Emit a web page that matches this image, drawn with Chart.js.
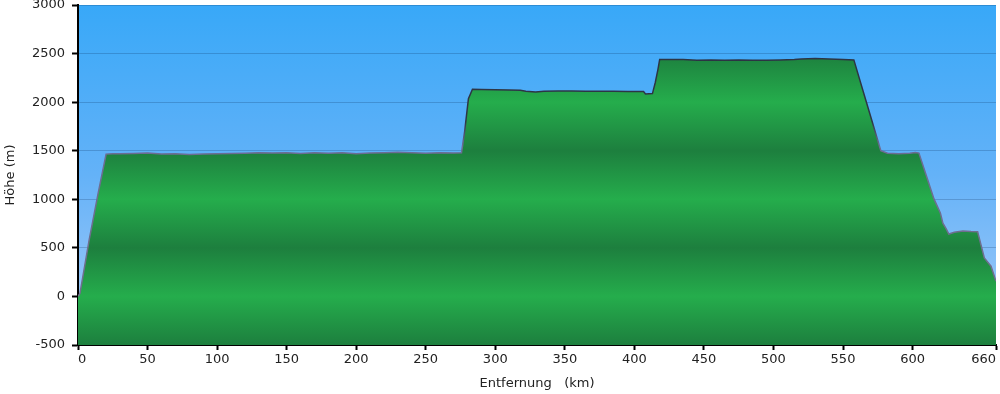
<!DOCTYPE html>
<html>
<head>
<meta charset="utf-8">
<script src="https://cdn.jsdelivr.net/npm/chart.js@4"></script>
<style>
    body { margin: 0; background: #fff; }
    canvas { display: block; }
</style>
</head>
<body>
<canvas id="profileChart" width="1000" height="394"></canvas>
<script>
// Elevation profile (km / m)
const distanceKm = [0, 1.4, 8, 14.4, 20.2, 25, 30, 40, 50, 60, 70, 80, 90, 100, 110, 120, 130, 140, 150, 160, 170, 180, 190, 200, 210, 220, 230, 240, 250, 260, 270, 275.7,
    278, 280.7, 283.6, 290, 300, 310, 318, 322, 329, 335, 345, 355, 365, 375, 385, 395, 406.6, 408, 413, 415, 417, 418.2,
    425, 435, 445, 455, 465, 475, 485, 495, 505, 515, 520, 530, 540, 550, 557.8,
    566.4, 577.2, 582, 590, 598, 602, 604.6,
    610, 615.4, 620, 621.8, 624, 626.1, 630, 636.2, 642, 646.8, 651.6, 656.4, 660];
const heightM = [0, 30, 580, 1056, 1465, 1470, 1468, 1472, 1476, 1466, 1470, 1462, 1465, 1468, 1472, 1474, 1478, 1476, 1480, 1472, 1478, 1474, 1480, 1468, 1476, 1480, 1484, 1478, 1474, 1480, 1476, 1478,
    1700, 2035, 2132, 2130, 2128, 2125, 2122, 2112, 2105, 2112, 2115, 2115, 2113, 2112, 2112, 2110, 2110, 2085, 2088, 2200, 2340, 2440,
    2440, 2438, 2432, 2435, 2432, 2435, 2430, 2432, 2435, 2440, 2445, 2448, 2445, 2440, 2435,
    2020, 1500, 1475, 1468, 1475, 1482, 1476,
    1240, 1004, 860, 754, 700, 642, 660, 673, 668, 666, 396, 311, 155];

const yTicks = [-500, 0, 500, 1000, 1500, 2000, 2500, 3000];
const xTicks = [0, 50, 100, 150, 200, 250, 300, 350, 400, 450, 500, 550, 600, 660];

const fontSpec = { family: 'DejaVu Sans', size: 13 };

// Banded green fill: light at whole thousands, dark in between
function greenFill(context) {
    const chart = context.chart;
    if (!chart.chartArea) return '#22a04a';
    const y = chart.scales.y;
    const top = y.getPixelForValue(3000);
    const bottom = y.getPixelForValue(-500);
    const g = chart.ctx.createLinearGradient(0, top, 0, bottom);
    yTicks.forEach(v => {
        g.addColorStop((y.getPixelForValue(v) - top) / (bottom - top), v % 1000 === 0 ? '#25ad4c' : '#1d7f3e');
    });
    return g;
}

// Outline darker up high, greyer lower down
function outlineColor(context) {
    const chart = context.chart;
    if (!chart.chartArea) return '#404858';
    const y = chart.scales.y;
    const top = y.getPixelForValue(3000);
    const bottom = y.getPixelForValue(-500);
    const g = chart.ctx.createLinearGradient(0, top, 0, bottom);
    g.addColorStop(0, '#2a3242');
    g.addColorStop((y.getPixelForValue(1800) - top) / (bottom - top), '#2e3646');
    g.addColorStop((y.getPixelForValue(1550) - top) / (bottom - top), '#6c6c94');
    g.addColorStop(1, '#707088');
    return g;
}

const skyPlugin = {
    id: 'sky',
    beforeDraw(chart) {
        const { ctx, chartArea } = chart;
        const g = ctx.createLinearGradient(0, chartArea.top, 0, chartArea.bottom);
        g.addColorStop(0, '#38a8f8');
        g.addColorStop(0.5, '#64b2f8');
        g.addColorStop(1, '#a8ccf8');
        ctx.save();
        ctx.fillStyle = g;
        ctx.fillRect(chartArea.left, chartArea.top, chartArea.right - chartArea.left, chartArea.bottom - chartArea.top);
        ctx.restore();
    }
};

const ctx = document.getElementById('profileChart').getContext('2d');
new Chart(ctx, {
    type: 'line',
    data: {
        datasets: [{
            data: distanceKm.map((d, i) => ({ x: d, y: heightM[i] })),
            fill: 'start',
            backgroundColor: greenFill,
            borderColor: outlineColor,
            borderWidth: 1.5,
            pointRadius: 0,
            tension: 0
        }]
    },
    options: {
        responsive: false,
        animation: false,
        layout: { padding: { top: 5, right: 4, left: 0, bottom: 0 } },
        plugins: {
            legend: { display: false },
            tooltip: { enabled: false }
        },
        scales: {
            x: {
                type: 'linear',
                min: 0,
                max: 660,
                z: 1,
                afterBuildTicks: scale => { scale.ticks = xTicks.map(v => ({ value: v })); },
                afterFit: scale => {
                    scale.height = 49;
                    scale.paddingLeft = 0;
                    scale.paddingRight = 0;
                },
                grid: { drawOnChartArea: false, tickLength: 5, tickColor: '#000', tickWidth: 2 },
                border: { color: '#000', width: 2 },
                ticks: {
                    color: '#222', font: fontSpec, maxRotation: 0, autoSkip: false, padding: 2,
                    align: 'inner',
                    callback: v => String(v)
                },
                title: {
                    display: true,
                    text: 'Entfernung   (km)',
                    color: '#222',
                    font: fontSpec,
                    padding: { top: 0, bottom: 3 }
                }
            },
            y: {
                min: -500,
                max: 3000,
                z: 1,
                afterBuildTicks: scale => { scale.ticks = yTicks.map(v => ({ value: v })); },
                afterFit: scale => {
                    scale.width = 78;
                    scale.paddingTop = 0;
                    scale.paddingBottom = 0;
                },
                grid: { color: 'rgba(0, 30, 70, 0.2)', lineWidth: 1, tickLength: 6, tickColor: '#000', tickWidth: 2 },
                border: { color: '#000', width: 2 },
                ticks: { color: '#222', font: fontSpec, padding: 7, callback: v => String(v) },
                title: {
                    display: true,
                    text: 'Höhe (m)',
                    color: '#222',
                    font: fontSpec,
                    padding: { top: 3, bottom: 0 }
                }
            }
        }
    },
    plugins: [skyPlugin]
});
</script>
</body>
</html>
